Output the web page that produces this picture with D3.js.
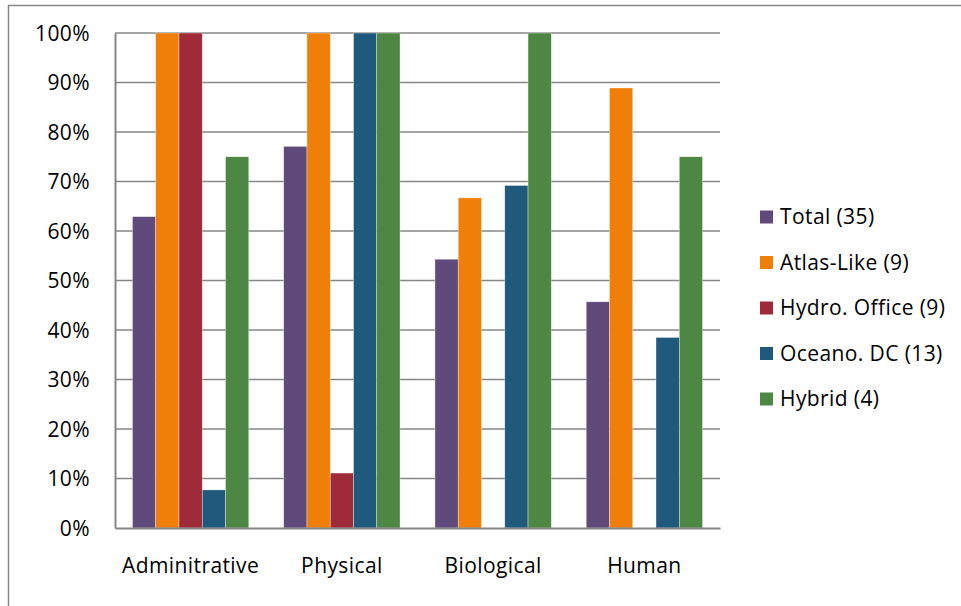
<!DOCTYPE html>
<html>
<head>
<meta charset="utf-8">
<script src="https://cdn.jsdelivr.net/npm/d3@7"></script>
<style>
  body { margin: 0; background: #fff; }
  svg text { font-family: "Open Sans", sans-serif; fill: #000; letter-spacing: 0.4px; }
</style>
</head>
<body>
<div id="draw"></div>
<script>
// categories, series and their values (share of items, %)
var categories = ['Adminitrative', 'Physical', 'Biological', 'Human'];
var seriesNames = ['Total (35)', 'Atlas-Like (9)', 'Hydro. Office (9)', 'Oceano. DC (13)', 'Hybrid (4)'];
var seriesColors = ['#604a7b', '#f07f09', '#9f2a3a', '#1f5a7d', '#4e8743'];
var totalVals = [62.9, 77.1, 54.3, 45.7];
var atlasVals = [100, 100, 66.7, 88.9];
var hydroVals = [100, 11.1, 0, 0];
var oceanoVals = [7.7, 100, 69.2, 38.5];
var hybridVals = [75, 100, 100, 75];
var yTicks = [0, 10, 20, 30, 40, 50, 60, 70, 80, 90, 100];

var allVals = [totalVals, atlasVals, hydroVals, oceanoVals, hybridVals];

var W = 961, H = 606;
var plot = { left: 115, top: 33, right: 720, bottom: 528 };
var fontSize = '21px';

var svg = d3.select('#draw').append('svg').attr('width', W).attr('height', H);

// chart frame
svg.append('rect').attr('x', 8.5).attr('y', 5.5).attr('width', W + 10).attr('height', H + 10)
  .attr('fill', '#fff').attr('stroke', '#868686').attr('stroke-width', 1.5);

var x0 = d3.scaleBand().domain(categories).range([plot.left, plot.right]).paddingInner(0).paddingOuter(0);
// gap width 150% -> bars take 5/6.5 of each category
var x1 = d3.scaleBand().domain(seriesNames).range([0, x0.bandwidth()]).paddingOuter(0.75).paddingInner(0);
var y = d3.scaleLinear().domain([0, 100]).range([plot.bottom, plot.top]);

// gridlines
svg.append('g').selectAll('line').data(yTicks.slice(1)).join('line')
  .attr('x1', plot.left).attr('x2', plot.right)
  .attr('y1', function(d){ return y(d); }).attr('y2', function(d){ return y(d); })
  .attr('stroke', '#868686').attr('stroke-width', 1.5);

// bars
var groups = svg.append('g').selectAll('g').data(categories).join('g')
  .attr('transform', function(d){ return 'translate(' + x0(d) + ',0)'; });
groups.selectAll('rect').data(function(c, i){
    return seriesNames.map(function(s, j){ return { s: s, v: allVals[j][i], c: seriesColors[j] }; });
  }).join('rect')
  .attr('x', function(d){ return x1(d.s); })
  .attr('width', x1.bandwidth())
  .attr('y', function(d){ return y(d.v); })
  .attr('height', function(d){ return y(0) - y(d.v); })
  .attr('fill', function(d){ return d.c; })
  .attr('stroke', '#fff').attr('stroke-opacity', 0.6).attr('stroke-width', 0.6);

// y axis
var yAxis = svg.append('g').attr('transform', 'translate(' + plot.left + ',0)')
  .call(d3.axisLeft(y).tickValues(yTicks).tickSize(0).tickPadding(25)
    .tickFormat(function(d){ return d + '%'; }));
yAxis.select('.domain').attr('stroke', '#868686').attr('stroke-width', 2);
yAxis.selectAll('text').style('font-size', fontSize).attr('dy', '0.35em');

// x axis
var xAxis = svg.append('g').attr('transform', 'translate(0,' + plot.bottom + ')')
  .call(d3.axisBottom(x0).tickSize(0).tickPadding(30));
xAxis.select('.domain').attr('stroke', '#868686').attr('stroke-width', 2);
xAxis.selectAll('text').style('font-size', fontSize);

// legend
var legend = svg.append('g').attr('transform', 'translate(760,0)');
var items = legend.selectAll('g').data(seriesNames).join('g')
  .attr('transform', function(d, i){ return 'translate(0,' + (217 + i * 45.5) + ')'; });
items.append('rect').attr('x', 0).attr('y', -6.5).attr('width', 13).attr('height', 13)
  .attr('fill', function(d, i){ return seriesColors[i]; });
items.append('text').attr('x', 20).attr('dy', '0.35em').style('font-size', fontSize)
  .text(function(d){ return d; });
</script>
</body>
</html>
